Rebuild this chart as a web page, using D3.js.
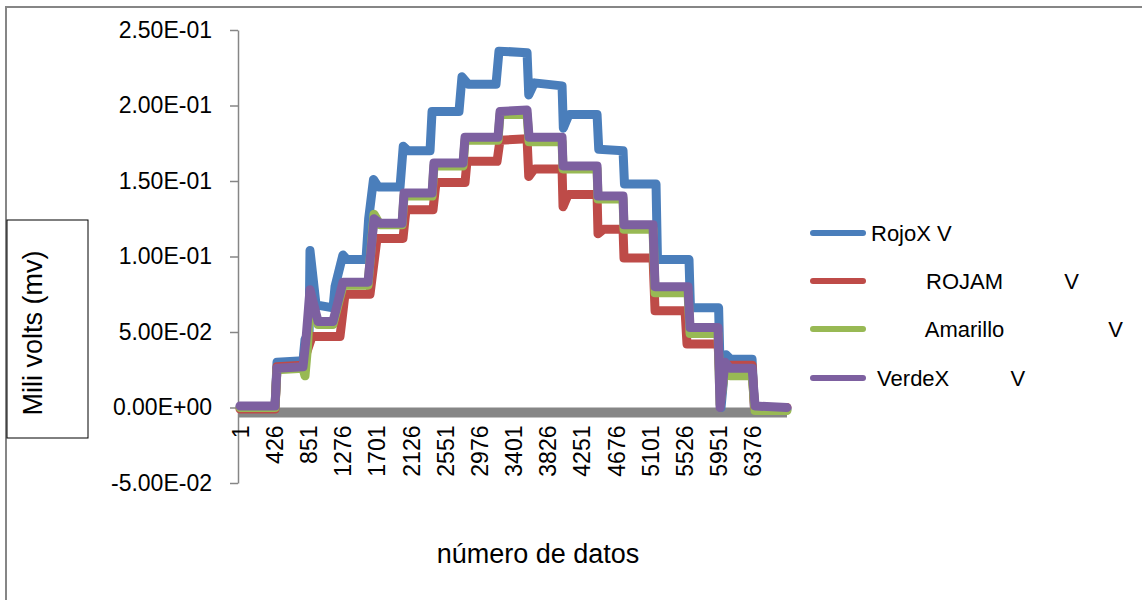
<!DOCTYPE html>
<html>
<head>
<meta charset="utf-8">
<script src="https://cdn.jsdelivr.net/npm/d3@7"></script>
<style>
body { margin: 0; background: #fff; }
svg { display: block; font-family: "Liberation Sans", Arial, sans-serif; }
.legend text { white-space: pre; }
</style>
</head>
<body>
<div id="plotSect"></div>
<script>
/* global d3 */

// Data: [sample number, volts] //

let rojoX = [[1, 0.000], [436, 0.000], [461, 0.030], [784, 0.031], [809, 0.045], [860, 0.050],
    [871, 0.104], [946, 0.068], [1157, 0.066], [1182, 0.080], [1280, 0.101], [1330, 0.098],
    [1567, 0.098], [1600, 0.125], [1660, 0.151], [1720, 0.146], [1990, 0.146], [2030, 0.173],
    [2090, 0.170], [2363, 0.170], [2388, 0.196], [2723, 0.196], [2760, 0.219], [2840, 0.214],
    [3183, 0.214], [3220, 0.236], [3569, 0.235], [3590, 0.207], [3660, 0.215], [4004, 0.213],
    [4020, 0.185], [4090, 0.194], [4439, 0.194], [4460, 0.171], [4762, 0.170], [4780, 0.148],
    [5172, 0.148], [5190, 0.098], [5582, 0.098], [5600, 0.066], [5950, 0.066], [5980, 0.000],
    [6040, 0.035], [6100, 0.032], [6366, 0.032], [6395, 0.000], [6800, -0.001]];

let rojam = [[1, -0.001], [436, -0.001], [461, 0.027], [784, 0.028], [809, 0.033], [896, 0.047],
    [1244, 0.047], [1306, 0.075], [1617, 0.075], [1704, 0.112], [2027, 0.112], [2064, 0.131],
    [2400, 0.131], [2437, 0.149], [2798, 0.149], [2822, 0.163], [3196, 0.163], [3233, 0.177],
    [3569, 0.178], [3590, 0.153], [3660, 0.158], [4004, 0.158], [4016, 0.133], [4080, 0.141],
    [4439, 0.141], [4451, 0.115], [4520, 0.118], [4762, 0.118], [4774, 0.099], [5135, 0.099],
    [5160, 0.064], [5533, 0.064], [5557, 0.042], [5943, 0.042], [5975, 0.010], [6030, 0.028],
    [6366, 0.028], [6395, 0.000], [6800, 0.000]];

let amarillo = [[1, 0.000], [436, 0.000], [461, 0.025], [784, 0.026], [809, 0.021], [840, 0.040],
    [871, 0.074], [971, 0.055], [1157, 0.055], [1281, 0.081], [1592, 0.081], [1667, 0.128],
    [1741, 0.121], [2015, 0.121], [2040, 0.140], [2388, 0.140], [2412, 0.160], [2773, 0.160],
    [2798, 0.177], [3208, 0.177], [3233, 0.194], [3569, 0.194], [3594, 0.176], [4004, 0.176],
    [4016, 0.158], [4439, 0.158], [4451, 0.138], [4762, 0.138], [4774, 0.118], [5135, 0.118],
    [5160, 0.076], [5570, 0.076], [5595, 0.049], [5943, 0.049], [5968, 0.002], [6030, 0.025],
    [6090, 0.021], [6366, 0.021], [6403, -0.002], [6800, -0.002]];

let verdeX = [[1, 0.001], [436, 0.001], [461, 0.026], [784, 0.027], [821, 0.045], [871, 0.078],
    [971, 0.057], [1157, 0.057], [1281, 0.083], [1592, 0.083], [1667, 0.125], [1741, 0.122],
    [2015, 0.122], [2040, 0.142], [2388, 0.142], [2412, 0.162], [2773, 0.162], [2798, 0.179],
    [3208, 0.179], [3233, 0.196], [3569, 0.197], [3594, 0.179], [4004, 0.179], [4016, 0.160],
    [4439, 0.160], [4451, 0.140], [4762, 0.140], [4774, 0.121], [5135, 0.121], [5160, 0.080],
    [5570, 0.080], [5595, 0.053], [5943, 0.053], [5968, 0.000], [6030, 0.030], [6090, 0.026],
    [6366, 0.026], [6403, 0.001], [6800, 0.000]];

let seriesNames = ["RojoX V",
    "         ROJAM          V",
    "         Amarillo                 V",
    " VerdeX          V"];
let seriesColors = ["#4a7ebb", "#be4b48", "#98b954", "#7d60a0"];
let seriesData = [rojoX, rojam, amarillo, verdeX];

let xTickLabels = [1, 426, 851, 1276, 1701, 2126, 2551, 2976, 3401, 3826, 4251, 4676, 5101, 5526, 5951, 6376];
let yTicks = [-0.05, 0, 0.05, 0.10, 0.15, 0.20, 0.25];

// Initial chart setup //

let SVGwidth = 1142,
    SVGheight = 600,
    axisColor = "#868686";

let svg = d3.select("#plotSect").append("svg")
    .attr("width", SVGwidth)
    .attr("height", SVGheight);

svg.append("rect")
    .attr("x", 6)
    .attr("y", 7)
    .attr("width", 1300)
    .attr("height", 800)
    .style("fill", "#fff")
    .style("stroke", axisColor)
    .style("stroke-width", 2);

let xScale = d3.scaleLinear()
    .domain([1, d3.max(rojoX, function(d) { return d[0]; })])
    .range([240, 787]);

let yScale = d3.scaleLinear()
    .domain([-0.05, 0.25])
    .range([483, 30]);

// 2.50E-01 style labels //
function sciFormat(v) {
    if (v === 0) { return "0.00E+00"; }
    let parts = v.toExponential(2).split("e");
    let exp = +parts[1];
    let expStr = (exp < 0 ? "-" : "+") + (Math.abs(exp) < 10 ? "0" : "") + Math.abs(exp);
    return parts[0] + "E" + expStr;
}

let yAxis = d3.axisLeft(yScale)
    .tickValues(yTicks)
    .tickFormat(sciFormat)
    .tickSize(8)
    .tickSizeOuter(0)
    .tickPadding(18);

let gy = svg.append("g")
    .attr("class", "yAxis")
    .attr("transform", "translate(238,0)")
    .call(yAxis);

gy.attr("font-family", null).attr("font-size", 23);
gy.selectAll("path, line").style("stroke", axisColor).style("stroke-width", 1.5);
gy.selectAll("text").style("fill", "#000");

// thick grey band along zero //
svg.append("line")
    .attr("x1", 238)
    .attr("x2", xScale.range()[1])
    .attr("y1", yScale(0) + 5)
    .attr("y2", yScale(0) + 5)
    .style("stroke", axisColor)
    .style("stroke-width", 10);

let xAxis = d3.axisBottom(xScale)
    .tickValues(xTickLabels)
    .tickFormat(d3.format("d"))
    .tickSize(0)
    .tickSizeOuter(0);

let gx = svg.append("g")
    .attr("class", "xAxis")
    .attr("transform", "translate(0," + yScale(0) + ")")
    .call(xAxis);

gx.select(".domain").remove();
gx.attr("font-family", null).attr("font-size", 23);
gx.selectAll("text")
    .attr("transform", "rotate(-90)")
    .attr("x", -18)
    .attr("y", 0)
    .attr("dy", "0.35em")
    .style("text-anchor", "end")
    .style("fill", "#000");

// series //

let line = d3.line()
    .x(function(d) { return xScale(d[0]); })
    .y(function(d) { return yScale(d[1]); });

svg.selectAll(".series")
    .data(seriesData)
    .enter().append("path")
    .attr("class", "series")
    .attr("d", line)
    .style("fill", "none")
    .style("stroke", function(d, i) { return seriesColors[i]; })
    .style("stroke-width", 9)
    .style("stroke-linejoin", "round")
    .style("stroke-linecap", "round");

// titles //

svg.append("rect")
    .attr("x", 7)
    .attr("y", 220)
    .attr("width", 81)
    .attr("height", 218)
    .style("fill", "#fff")
    .style("stroke", "#000")
    .style("stroke-width", 1);

svg.append("text")
    .attr("transform", "translate(42,333) rotate(-90)")
    .style("text-anchor", "middle")
    .style("font-size", "27px")
    .text("Mili volts (mv)");

svg.append("text")
    .attr("x", 538)
    .attr("y", 563)
    .style("text-anchor", "middle")
    .style("font-size", "27px")
    .text("número de datos");

// legend //

let legendY = [233, 281, 329, 378];
let legend = svg.selectAll(".legend")
    .data(seriesNames)
    .enter().append("g")
    .attr("class", "legend")
    .attr("transform", function(d, i) { return "translate(0," + legendY[i] + ")"; });

legend.append("line")
    .attr("x1", 813)
    .attr("x2", 863)
    .style("stroke", function(d, i) { return seriesColors[i]; })
    .style("stroke-width", 6)
    .style("stroke-linecap", "round");

legend.append("text")
    .attr("x", 871)
    .attr("dy", "0.35em")
    .style("font-size", "22px")
    .text(function(d) { return d; });
</script>
</body>
</html>
